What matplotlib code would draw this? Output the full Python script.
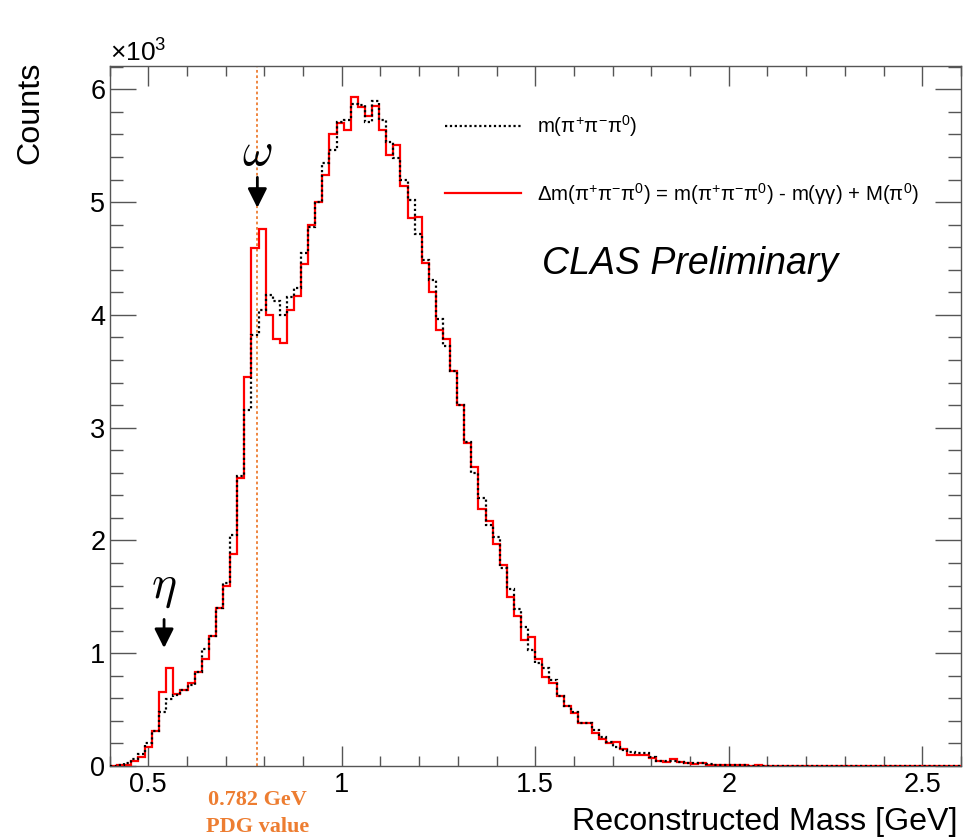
import numpy as np
import matplotlib
matplotlib.use('Agg')
import matplotlib.pyplot as plt
from matplotlib.lines import Line2D
from matplotlib.ticker import MultipleLocator

plt.rcParams['font.family'] = ['Liberation Sans', 'DejaVu Sans']
plt.rcParams['mathtext.fontset'] = 'custom'
plt.rcParams['mathtext.rm'] = 'Liberation Sans'
plt.rcParams['mathtext.it'] = 'Liberation Sans:italic'
plt.rcParams['mathtext.bf'] = 'Liberation Sans:bold'

# histogram binning (GeV)
x_min, x_max, n_bins = 0.4, 2.6, 120

# counts per bin, in units of 10^3
dm_counts = [
    0.00, 0.01, 0.01, 0.04, 0.08, 0.165, 0.31, 0.655, 0.865, 0.635,
    0.675, 0.74, 0.83, 0.945, 1.15, 1.40, 1.60, 1.88, 2.55, 3.45,
    4.59, 4.76, 4.00, 3.79, 3.75, 4.04, 4.17, 4.45, 4.80, 5.00,
    5.24, 5.60, 5.70, 5.64, 5.93, 5.84, 5.76, 5.85, 5.64, 5.42,
    5.51, 5.14, 4.86, 4.87, 4.46, 4.20, 3.87, 3.79, 3.50, 3.20,
    2.86, 2.65, 2.28, 2.175, 1.97, 1.78, 1.50, 1.33, 1.12, 1.14,
    0.946, 0.79, 0.74, 0.62, 0.535, 0.467, 0.384, 0.378, 0.29, 0.236,
    0.20, 0.21, 0.148, 0.10, 0.097, 0.097, 0.068, 0.047, 0.038, 0.062,
    0.033, 0.024, 0.018, 0.024, 0.010, 0.010, 0.010, 0.008, 0.006, 0.006,
    0.004, 0.008, 0.003, 0.002, 0.001,
] + [0.0] * 25

m_counts = [
    0.00, 0.01, 0.025, 0.06, 0.11, 0.20, 0.31, 0.48, 0.59, 0.63,
    0.67, 0.72, 0.83, 1.04, 1.15, 1.40, 1.62, 2.05, 2.57, 3.16,
    3.82, 4.04, 4.18, 4.12, 4.00, 4.16, 4.24, 4.55, 4.78, 5.00,
    5.35, 5.46, 5.71, 5.73, 5.87, 5.86, 5.71, 5.90, 5.73, 5.53,
    5.39, 5.20, 5.02, 4.72, 4.49, 4.31, 3.96, 3.72, 3.50, 3.20,
    2.87, 2.60, 2.38, 2.14, 2.03, 1.76, 1.57, 1.39, 1.23, 1.03,
    0.91, 0.866, 0.76, 0.62, 0.535, 0.48, 0.384, 0.384, 0.32, 0.254,
    0.216, 0.17, 0.142, 0.127, 0.112, 0.112, 0.077, 0.047, 0.047, 0.047,
    0.035, 0.03, 0.024, 0.024, 0.018, 0.012, 0.010, 0.008, 0.006, 0.005,
    0.004, 0.003, 0.002, 0.001, 0.001,
] + [0.0] * 25

omega_pdg = 0.782
eta_pos = 0.541

lab_m = r'm(π$^{+}$π$^{-}$π$^{0}$)'
lab_dm = r'Δm(π$^{+}$π$^{-}$π$^{0}$) = m(π$^{+}$π$^{-}$π$^{0}$) - m(γγ) + M(π$^{0}$)'

edges = np.linspace(x_min, x_max, n_bins + 1)

fig = plt.figure(figsize=(9.64, 8.39), dpi=100)
ax = fig.add_axes([109.5 / 964, 73 / 839, (961 - 109.5) / 964, (766 - 65.7) / 839])

orange = '#ed7d31'
ax.axvline(omega_pdg, color=orange, lw=1.3, ls=(0, (1.5, 1.5)), zorder=1)

ax.stairs(dm_counts, edges, color='red', lw=1.6, zorder=3)
ax.stairs(m_counts, edges, color='black', lw=1.6, ls=(0, (1, 1.2)), zorder=4)

ax.set_xlim(x_min, x_max)
ax.set_ylim(0, 6.21)

ax.set_xticks([0.5, 1, 1.5, 2, 2.5])
ax.set_xticklabels(['0.5', '1', '1.5', '2', '2.5'])
ax.xaxis.set_minor_locator(MultipleLocator(0.1))
ax.yaxis.set_major_locator(MultipleLocator(1))
ax.yaxis.set_minor_locator(MultipleLocator(0.2))

frame_col = '#555555'
for s in ax.spines.values():
    s.set_color(frame_col)
    s.set_linewidth(1.0)
ax.tick_params(which='both', direction='in', top=True, right=True,
               color=frame_col, width=1.0, labelsize=19.5)
ax.tick_params(axis='x', which='major', length=14.5, pad=4)
ax.tick_params(axis='x', which='minor', length=7.2)
ax.tick_params(axis='y', which='major', length=18.5, pad=3)
ax.tick_params(axis='y', which='minor', length=9.5)

# resonance markers
ax.text(omega_pdg, 5.44, r'$\omega$', math_fontfamily='cm', fontsize=34,
        ha='center', va='center')
ax.annotate('', xy=(omega_pdg, 4.95), xytext=(omega_pdg, 5.22),
            arrowprops=dict(arrowstyle='-|>,head_length=0.4,head_width=0.2',
                            color='black', lw=2, mutation_scale=29,
                            shrinkA=0, shrinkB=0))
ax.text(eta_pos, 1.58, r'$\eta$', math_fontfamily='cm', fontsize=34,
        ha='center', va='center')
ax.annotate('', xy=(eta_pos, 1.046), xytext=(eta_pos, 1.30),
            arrowprops=dict(arrowstyle='-|>,head_length=0.4,head_width=0.2',
                            color='black', lw=2, mutation_scale=29,
                            shrinkA=0, shrinkB=0))

ax.text(1.517, 4.45, 'CLAS Preliminary', style='italic', fontsize=27,
        ha='left', va='center')

# PDG value note under the axis
tr = ax.get_xaxis_transform()
ax.text(omega_pdg, -0.049, '0.782 GeV', transform=tr, ha='center', va='center',
        color=orange, fontsize=16, fontweight='bold', family='Liberation Serif',
        clip_on=False)
ax.text(omega_pdg, -0.087, 'PDG value', transform=tr, ha='center', va='center',
        color=orange, fontsize=16, fontweight='bold', family='Liberation Serif',
        clip_on=False)

handles = [Line2D([], [], color='black', lw=1.6, ls=(0, (1, 1.2))),
           Line2D([], [], color='red', lw=1.6)]
ax.legend(handles, [lab_m, lab_dm], loc='upper left',
          bbox_to_anchor=(445 / 964, 1 - 113 / 839), bbox_transform=fig.transFigure,
          frameon=False, borderpad=0, borderaxespad=0, fontsize=14.7,
          handlelength=3.7, handletextpad=0.8, labelspacing=2.05)

fig.text(958 / 964, 1 - 822 / 839, 'Reconstructed Mass [GeV]', ha='right',
         va='center', fontsize=23.2)
fig.text(30 / 964, 1 - 62 / 839, 'Counts', rotation=90, ha='center', va='top',
         fontsize=23.2)
fig.text(110 / 964, 1 - 62 / 839, r'×10$^{3}$', ha='left', va='baseline',
         fontsize=19)

fig.savefig('out.png', dpi=100)
